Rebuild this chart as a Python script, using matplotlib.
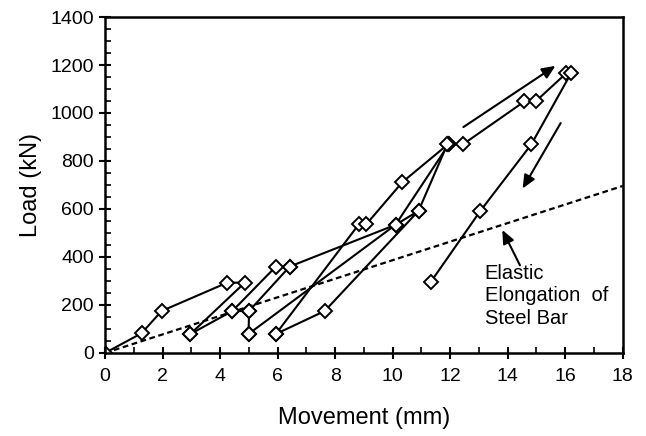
import numpy as np
import matplotlib
matplotlib.use('Agg')
import matplotlib.pyplot as plt
from matplotlib.ticker import MultipleLocator

plt.rcParams['font.family'] = ['Liberation Sans', 'DejaVu Sans']

# load-movement cycles (mm, kN)
cycle1_x = [0, 1.27, 1.97, 4.25, 4.86, 2.97]
cycle1_y = [0, 82, 175, 293, 293, 79]
cycle2_x = [2.97, 4.43, 5.94, 6.42, 5.01, 4.99]
cycle2_y = [79, 175, 360, 360, 175, 79]
link2_x = [4.43, 5.01]
link2_y = [175, 175]
cycle3_x = [4.99, 10.1, 10.9, 7.64, 5.94]
cycle3_y = [79, 534, 592, 175, 79]
cycle4_x = [5.94, 8.83, 9.09, 10.34, 11.92]
cycle4_y = [79, 537, 537, 712, 869]
cycle5_x = [6.42, 10.1, 11.95]
cycle5_y = [360, 534, 869]
cycle6_x = [10.9, 11.9, 12.44, 14.58, 14.97, 16.03, 16.2, 14.82, 13.05, 11.32]
cycle6_y = [592, 869, 869, 1048, 1048, 1165, 1165, 869, 592, 295]

cycles = [(cycle1_x, cycle1_y), (cycle2_x, cycle2_y), (link2_x, link2_y),
          (cycle3_x, cycle3_y), (cycle4_x, cycle4_y), (cycle5_x, cycle5_y),
          (cycle6_x, cycle6_y)]

# elastic elongation of the steel bar
elastic_x = [0, 18]
elastic_y = [0, 696]

fig = plt.figure(figsize=(6.46, 4.36), dpi=100)
ax = fig.add_axes([0.1625, 0.1904, 0.8015, 0.7706])

ax.plot(elastic_x, elastic_y, color='black', lw=1.6, ls=(0, (2.6, 1.6)))
for cx, cy in cycles:
    ax.plot(cx, cy, color='black', lw=1.5, marker='D', markersize=7.5,
            markerfacecolor='white', markeredgecolor='black', markeredgewidth=1.4)

# direction arrows
arrow = dict(arrowstyle='-|>,head_length=0.8,head_width=0.35', color='black', lw=1.5)
ax.annotate('', xy=(15.74, 1203), xytext=(12.38, 935), arrowprops=arrow)
ax.annotate('', xy=(14.47, 675), xytext=(15.89, 968), arrowprops=arrow)
ax.annotate('', xy=(13.77, 523), xytext=(14.47, 355), arrowprops=arrow)
ax.text(13.2, 372, 'Elastic\nElongation  of\nSteel Bar', fontsize=14.5,
        va='top', ha='left', linespacing=1.25)

ax.set_xlim(0, 18)
ax.set_ylim(0, 1400)
ax.xaxis.set_major_locator(MultipleLocator(2))
ax.xaxis.set_minor_locator(MultipleLocator(1))
ax.yaxis.set_major_locator(MultipleLocator(200))
ax.yaxis.set_minor_locator(MultipleLocator(50))
ax.tick_params(which='major', direction='inout', length=9, width=1.5, labelsize=14)
ax.tick_params(which='minor', direction='in', length=4, width=1.2)
ax.tick_params(axis='x', pad=6)
for s in ax.spines.values():
    s.set_linewidth(1.8)

ax.set_xlabel('Movement (mm)', fontsize=17, labelpad=16)
ax.set_ylabel('Load (kN)', fontsize=17, labelpad=6)

fig.savefig('out.png', dpi=100)
